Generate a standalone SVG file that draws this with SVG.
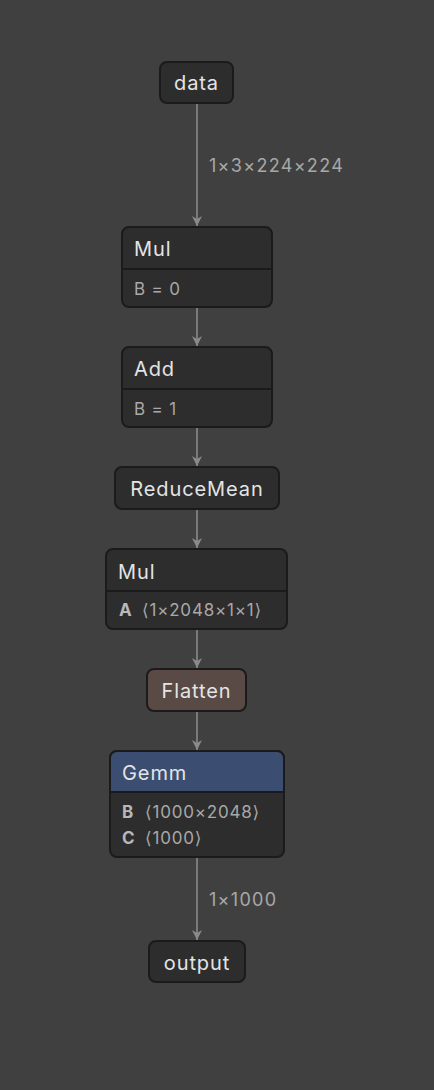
<svg xmlns="http://www.w3.org/2000/svg" width="434" height="1090" viewBox="0 0 434 1090">
<style>
.bg{fill:#404040}
.box{fill:#2d2d2d;stroke:#1b1b1b;stroke-width:2}
.div{stroke:#1b1b1b;stroke-width:2}
.t{font-family:Inter,"Noto Sans","DejaVu Sans",sans-serif;font-size:20px;letter-spacing:0.9px;fill:#e4e4e4}
.a{font-family:Inter,"Noto Sans","DejaVu Sans",sans-serif;font-size:17px;letter-spacing:0.8px;fill:#a8a8a8}
.ab{font-weight:bold;fill:#b8b8b8}
.el{font-family:Inter,"Noto Sans","DejaVu Sans",sans-serif;font-size:18px;letter-spacing:1.3px;fill:#a8a8a8}
.e{stroke:#8a8a8a;stroke-width:1.6;fill:none;marker-end:url(#arr)}
</style>
<defs>
<marker id="arr" markerUnits="userSpaceOnUse" markerWidth="12" markerHeight="12" viewBox="0 0 12 12" refX="11" refY="6" orient="auto">
<path d="M1 1 L11 6 L1 11 L4 6 Z" fill="#8a8a8a"/>
</marker>
</defs>
<rect class="bg" x="0" y="0" width="434" height="1090"/>
<g id="edges">
<line class="e" x1="197" y1="104" x2="197" y2="226"/>
<line class="e" x1="197" y1="308" x2="197" y2="346"/>
<line class="e" x1="197" y1="428" x2="197" y2="466"/>
<line class="e" x1="197" y1="510" x2="197" y2="548"/>
<line class="e" x1="197" y1="630" x2="197" y2="668"/>
<line class="e" x1="197" y1="712" x2="197" y2="750"/>
<line class="e" x1="197" y1="858" x2="197" y2="940"/>
<text class="el" x="209" y="172">1×3×224×224</text>
<text class="el" x="209" y="906">1×1000</text>
</g>
<g id="data">
<rect class="box" x="160" y="62" width="73" height="41" rx="7"/>
<text class="t" x="196.5" y="90" text-anchor="middle">data</text>
</g>
<g id="mul1">
<rect class="box" x="122" y="227" width="150" height="80" rx="7"/>
<line class="div" x1="122" y1="269" x2="272" y2="269"/>
<text class="t" x="134" y="256">Mul</text>
<text class="a" x="134" y="295">B = 0</text>
</g>
<g id="add">
<rect class="box" x="122" y="347" width="150" height="80" rx="7"/>
<line class="div" x1="122" y1="389" x2="272" y2="389"/>
<text class="t" x="134" y="376">Add</text>
<text class="a" x="134" y="415">B = 1</text>
</g>
<g id="reducemean">
<rect class="box" x="115" y="467" width="164" height="42" rx="7"/>
<text class="t" x="197" y="496" text-anchor="middle">ReduceMean</text>
</g>
<g id="mul2">
<rect class="box" x="106" y="549" width="181" height="80" rx="7"/>
<line class="div" x1="106" y1="591" x2="287" y2="591"/>
<text class="t" x="118" y="579">Mul</text>
<text class="a" x="119" y="616"><tspan class="ab">A</tspan><tspan x="142">⟨1×2048×1×1⟩</tspan></text>
</g>
<g id="flatten">
<rect x="147" y="669" width="99" height="42" rx="7" fill="#5a4a46" stroke="#1b1b1b" stroke-width="2"/>
<text class="t" x="196.5" y="698" text-anchor="middle">Flatten</text>
</g>
<g id="gemm">
<rect class="box" x="110" y="751" width="174" height="106" rx="7"/>
<path d="M110 792 V758 a7 7 0 0 1 7 -7 H277 a7 7 0 0 1 7 7 V792 Z" fill="#3b4e72" stroke="#1b1b1b" stroke-width="2"/>
<text class="t" x="122" y="780">Gemm</text>
<text class="a" x="122" y="818"><tspan class="ab">B</tspan><tspan x="145">⟨1000×2048⟩</tspan></text>
<text class="a" x="122" y="844"><tspan class="ab">C</tspan><tspan x="145">⟨1000⟩</tspan></text>
</g>
<g id="output">
<rect class="box" x="149" y="941" width="96" height="41" rx="7"/>
<text class="t" x="197" y="970" text-anchor="middle">output</text>
</g>
</svg>
